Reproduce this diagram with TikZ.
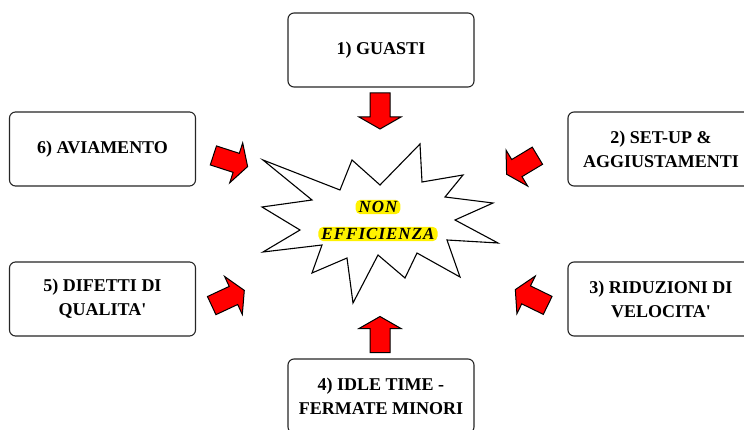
\documentclass[tikz,border=0pt]{standalone}
\usepackage{fontspec}
\setmainfont{Liberation Serif}
\begin{document}
\begin{tikzpicture}[x=1pt,y=-1pt,
  box/.style={draw=black!85, line width=1.1pt, rounded corners=6pt, fill=white,
    minimum width=186pt, minimum height=74pt, align=center, inner sep=0pt,
    font=\fontsize{18}{24}\selectfont\bfseries},
  hilite/.style={fill=yellow, rounded corners=5pt, inner xsep=3pt, inner ysep=1.5pt,
    font=\fontsize{17}{17}\selectfont\bfseries\itshape\addfontfeature{LetterSpace=6}},
  burst/.style={draw=black, line width=1.1pt, fill=white, line join=miter},
  pics/blockarrow/.style={code={
    \draw[fill=red, draw=black, line width=1pt, line join=miter]
      (-18,-10) -- (6,-10) -- (6,-21) -- (18,0) -- (6,21) -- (6,10) -- (-18,10) -- cycle;}}
]
\useasboundingbox (0,0) rectangle (744,430);
\clip (0,0) rectangle (744,430);

% the six causes
\node[box] (b1) at (381,50)    {1) GUASTI};
\node[box] (b2) at (661,149)   {2) SET-UP \&\\AGGIUSTAMENTI};
\node[box] (b3) at (661,299)   {3) RIDUZIONI DI\\VELOCITA\textquotesingle};
\node[box] (b4) at (381,396)   {4) IDLE TIME -\\FERMATE MINORI};
\node[box] (b5) at (102.5,299) {5) DIFETTI DI\\QUALITA\textquotesingle};
\node[box] (b6) at (102.5,149) {6) AVIAMENTO};

% central starburst
\draw[burst] (263,160) -- (340,190) -- (352,160) -- (380,185) -- (420,144)
  -- (422,182) -- (463,175) -- (445,197) -- (493,203) -- (455,220)
  -- (498,243) -- (447,240) -- (460,277) -- (417,253) -- (405,278)
  -- (378,255) -- (353,303) -- (347,258) -- (312,273) -- (322,245)
  -- (263,252) -- (300,230) -- (262,207) -- (312,200) -- cycle;
\node[hilite] (non) at (378,207) {NON};
\node[hilite] (eff) at (378,234) {EFFICIENZA};

% block arrows pointing towards the centre
\pic (a1) [rotate=-90]  at (380,111)   {blockarrow};
\pic (a2) [rotate=-149] at (522,165)   {blockarrow};
\pic (a3) [rotate=154]  at (531.5,297.5) {blockarrow};
\pic (a4) [rotate=90]   at (380,334.5) {blockarrow};
\pic (a5) [rotate=25]   at (228,298)   {blockarrow};
\pic (a6) [rotate=-18]  at (230.5,161) {blockarrow};
\end{tikzpicture}
\end{document}
